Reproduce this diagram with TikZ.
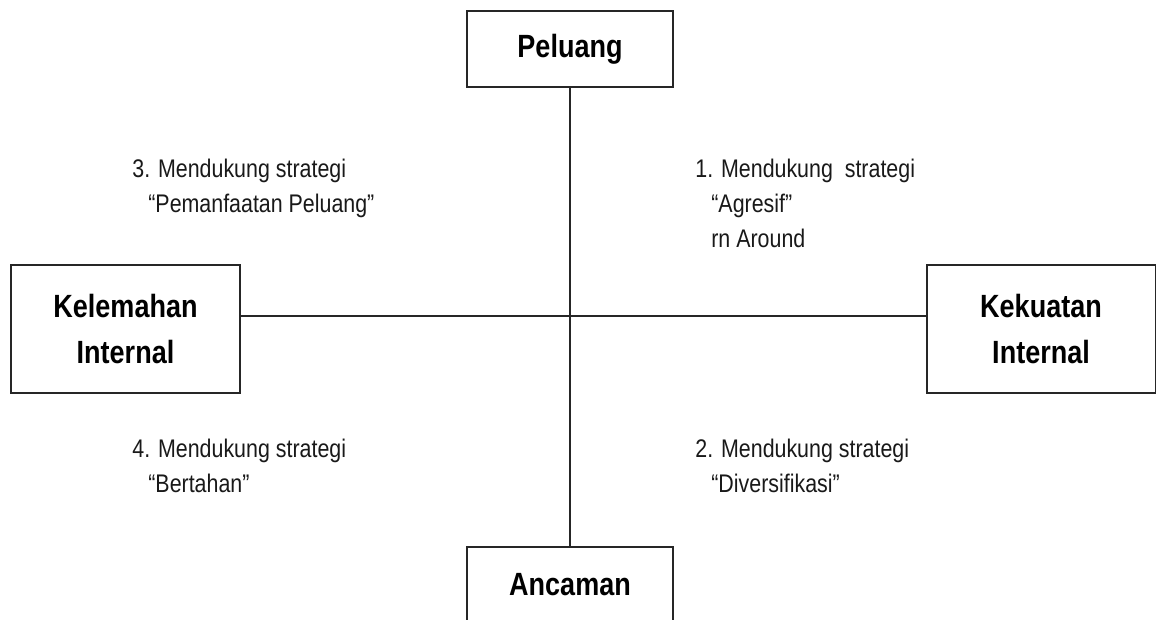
\documentclass[tikz,border=0pt]{standalone}
\usepackage{fontspec}
\usepackage{tikz}
\usetikzlibrary{positioning}
\newfontfamily\narrowsf[FakeStretch=0.84]{Liberation Sans}
\newcommand{\titlefont}{\narrowsf\bfseries\fontsize{18.3}{26.2}\selectfont}
\newcommand{\notefont}{\narrowsf\fontsize{14.5}{19.9}\selectfont}
\tikzset{
  sidebox/.style={rectangle, draw=black!85, line width=1.1pt, minimum width=4.58cm, minimum height=2.56cm, align=center, font=\titlefont, inner sep=2pt},
  endbox/.style={rectangle, draw=black!85, line width=1.1pt, minimum width=4.12cm, minimum height=1.52cm, align=center, font=\titlefont, inner sep=2pt},
  quadnote/.style={anchor=base west, align=left, font=\notefont, text=black!90, inner sep=0pt},
  axisline/.style={line width=1.1pt, draw=black!85},
}

\begin{document}
\begin{tikzpicture}[x=0.02cm, y=-0.02cm]
  \useasboundingbox (0,0) rectangle (1158,619);
  \node[endbox] (pel) at (570,49) {Peluang};
  \node[endbox] (anc) at (570,585) {Ancaman};
  \node[sidebox] (kel) at (125.5,329) {Kelemahan\\Internal};
  \node[sidebox] (kek) at (1041,329) {Kekuatan\\Internal};
  \draw[axisline] (pel.south) -- (anc.north);
  \draw[axisline] ([yshift=0.26cm]kel.east) -- ([yshift=0.26cm]kek.west);
  % strategi per kuadran (base = baris terakhir)
  \node[quadnote] (q1) at (695,247) {1. Mendukung\ \ strategi\\\hspace*{0.32cm}“Agresif”\\\hspace*{0.32cm}rn Around};
  \node[quadnote] (q2) at (695,492) {2. Mendukung strategi\\\hspace*{0.32cm}“Diversifikasi”};
  \node[quadnote] (q3) at (132,212) {3. Mendukung strategi\\\hspace*{0.32cm}“Pemanfaatan Peluang”};
  \node[quadnote] (q4) at (132,492) {4. Mendukung strategi\\\hspace*{0.32cm}“Bertahan”};
\end{tikzpicture}
\end{document}
